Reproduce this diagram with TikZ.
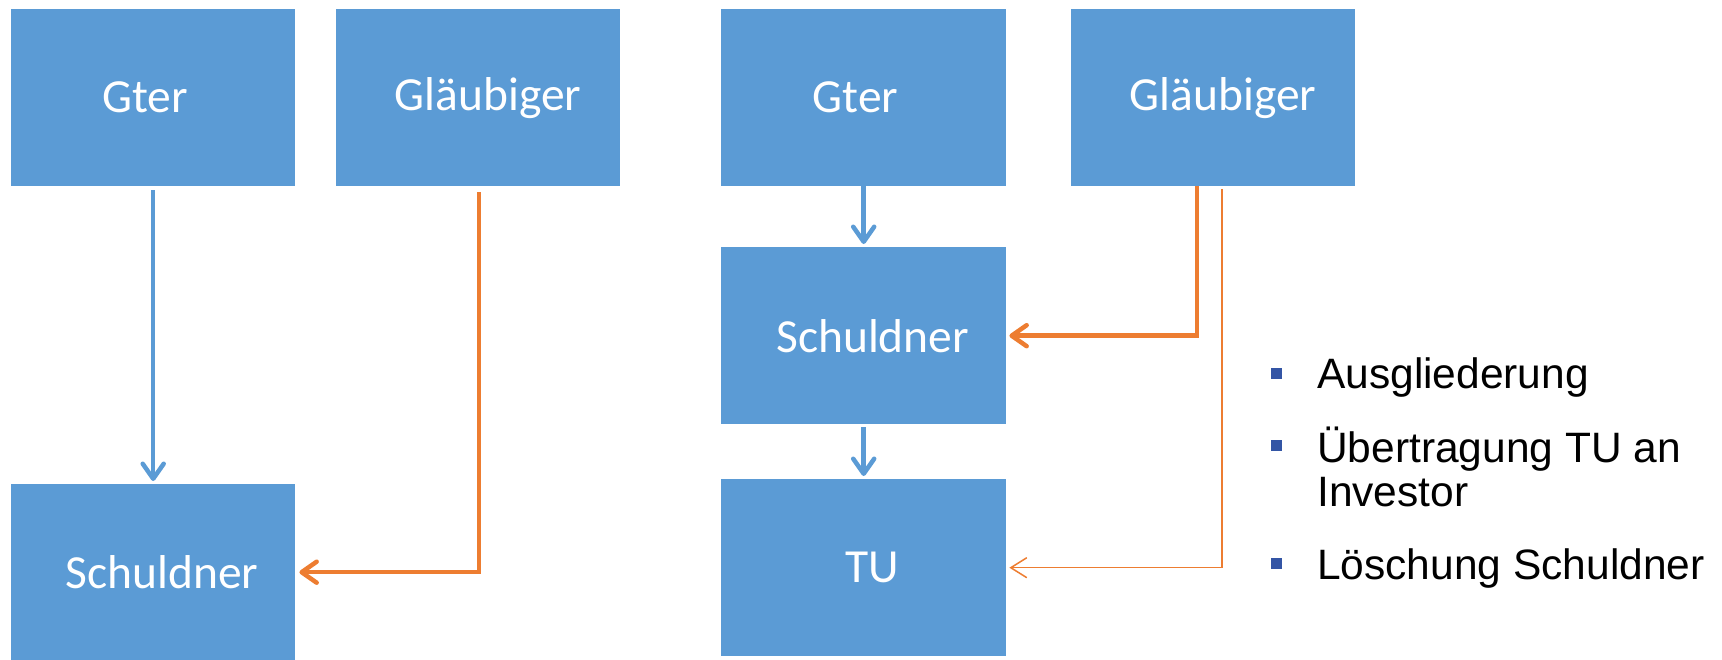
\documentclass[tikz,border=0pt]{standalone}
\usepackage{fontspec}
\setmainfont{Carlito}
\newfontfamily\arialf{Liberation Sans}
\usetikzlibrary{arrows.meta}
\definecolor{boxblue}{HTML}{5B9BD5}
\definecolor{arrorange}{HTML}{ED7D31}
\definecolor{bulletblue}{RGB}{51,85,165}
\newcommand{\padL}[2]{\hspace*{#1}#2}
\newcommand{\padR}[2]{#2\hspace*{#1}}
\tikzset{
  box/.style={fill=boxblue, draw=none, anchor=north west, minimum width=285bp, minimum height=177bp, inner sep=0pt, text=white, font=\fontsize{47.5bp}{56bp}\selectfont},
  bluearrow/.style={draw=boxblue, line width=4.5bp, -{Straight Barb[length=15bp,width=21bp,round]}},
  orangethick/.style={draw=arrorange, line width=4.5bp, -{Straight Barb[length=15bp,width=21bp,round]}},
  orangethin/.style={draw=arrorange, line width=1.5bp, -{Straight Barb[length=16bp,width=20bp]}},
  bsq/.style={fill=bulletblue, draw=none, minimum size=11bp, inner sep=0pt},
  btext/.style={anchor=base west, inner sep=0pt, align=left, font=\arialf\fontsize{42.5bp}{44bp}\selectfont}
}
\begin{document}
\begin{tikzpicture}[x=1bp, y=-1bp]
\useasboundingbox (0,0) rectangle (1722,660);
% left diagram
\node[box, minimum width=284bp] (gterL) at (11,9) {\padR{16bp}{Gter}};
\node[box, minimum width=284bp] (glL) at (336,9) {\padL{20bp}{Gläubiger}};
\node[box, minimum width=284bp, minimum height=176bp] (schL) at (11,484) {\padL{18bp}{Schuldner}};
% right diagram
\node[box] (gterR) at (721,9) {\padR{16bp}{Gter}};
\node[box, minimum width=284bp] (glR) at (1071,9) {\padL{20bp}{Gläubiger}};
\node[box] (schR) at (721,247) {\padL{18bp}{Schuldner}};
\node[box] (tuR) at (721,479) {\padL{17bp}{TU}};
% connectors left
\draw[bluearrow, shorten <=4bp, shorten >=3bp] (gterL.south) -- (schL.north);
\draw[orangethick, shorten >=4bp] ([xshift=1bp,yshift=-6bp]glL.south) |- (schL.east);
% connectors right
\draw[bluearrow, shorten >=3bp] (gterR.south) -- (schR.north);
\draw[bluearrow, shorten <=3bp, shorten >=3bp] (schR.south) -- (tuR.north);
\draw[orangethick, shorten >=3bp] ([xshift=-16bp]glR.south) |- (schR.east);
\draw[orangethin, shorten >=3bp] ([xshift=9bp,yshift=-3bp]glR.south) |- (tuR.east);
% bullet list
\node[bsq] (b1) at (1276.5,373.5) {};
\node[bsq] (b2) at (1276.5,445.5) {};
\node[bsq] (b3) at (1276.5,563.5) {};
\node[btext] (t1) at (1317,388) {Ausgliederung};
\node[btext] (t2) at (1317,506) {Übertragung TU an\\Investor};
\node[btext] (t3) at (1317,579) {Löschung Schuldner};
\end{tikzpicture}
\end{document}
